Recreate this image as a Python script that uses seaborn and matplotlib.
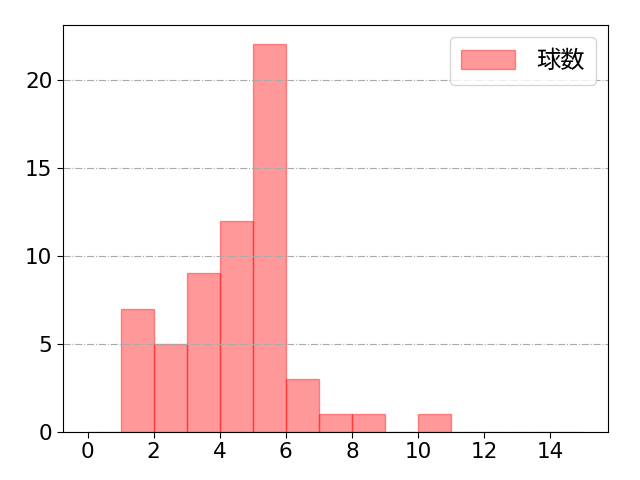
import numpy as np
import pandas as pd
import matplotlib
matplotlib.use("Agg")
import matplotlib.pyplot as plt
import seaborn as sns

plt.rcParams['font.family'] = ['DejaVu Sans', 'Noto Sans CJK JP']

pitch_values = [1.5, 2.5, 3.5, 4.5, 5.5, 6.5, 7.5, 8.5, 10.5]
pitch_counts = [7, 5, 9, 12, 22, 3, 1, 1, 1]
bin_edges = list(range(0, 16))
label = "球数"

df = pd.DataFrame({"v": pitch_values, "w": pitch_counts})

fig, ax = plt.subplots(figsize=(6.4, 4.8), dpi=100)
sns.histplot(data=df, x="v", weights="w", bins=bin_edges, ax=ax,
             color="red", alpha=0.4, edgecolor=(1, 0, 0, 0.4), linewidth=1,
             label=label)
ax.set_xlabel("")
ax.set_ylabel("")
ax.set_xticks([0, 2, 4, 6, 8, 10, 12, 14])
ax.set_yticks([0, 5, 10, 15, 20])
ax.tick_params(labelsize=15.5, direction="out", length=4, color="black")
ax.grid(axis="y", linestyle="-.", color="#aaaaaa", linewidth=0.8, zorder=3)
ax.set_axisbelow(False)
for s in ax.spines.values():
    s.set_visible(True)
    s.set_color("black")
    s.set_zorder(4)
ax.legend(loc="upper right", handlelength=2.2, handleheight=0.8,
          handletextpad=0.9, borderpad=0.45,
          prop={"family": ["Noto Sans CJK JP"], "size": 17.5})
fig.subplots_adjust(left=0.098, right=0.95, top=0.948, bottom=0.1)
fig.savefig("out.png", dpi=100)
